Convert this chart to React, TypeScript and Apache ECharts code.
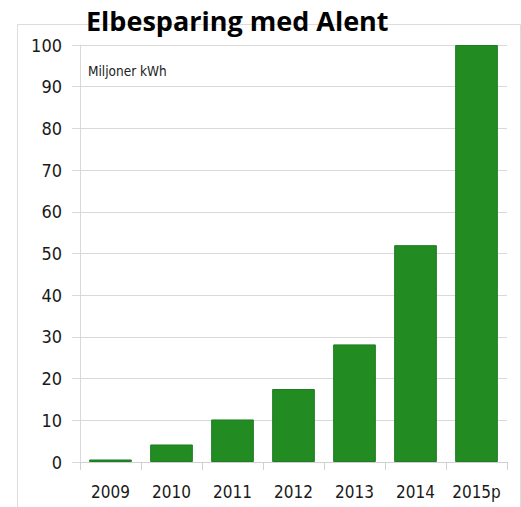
import React, { useEffect, useRef } from "react";
import * as echarts from "echarts";

const categories = ["2009", "2010", "2011", "2012", "2013", "2014", "2015p"];
const values = [0.6, 4.2, 10.2, 17.5, 28.2, 52, 100];
const titleText = "Elbesparing med Alent";
const unitText = "Miljoner kWh";

const NARROW = "'DejaVu Sans Condensed', 'Open Sans', sans-serif";

export default function App() {
  const ref = useRef<HTMLDivElement>(null);
  useEffect(() => {
    if (!ref.current) return;
    const chart = echarts.init(ref.current, undefined, { renderer: "svg" });
    chart.setOption({
      animation: false,
      backgroundColor: "#ffffff",
      title: {
        text: titleText,
        left: 81,
        top: 2,
        textStyle: {
          fontFamily: "'Open Sans', sans-serif",
          fontWeight: "bold",
          fontSize: 27,
          color: "#000000",
        },
      },
      graphic: [
        {
          type: "rect",
          z: -10,
          shape: { x: 17.5, y: 24.5, width: 503, height: 500 },
          style: { fill: "none", stroke: "#dcdcdc", lineWidth: 1 },
        },
        {
          type: "text",
          x: 88,
          y: 64,
          style: {
            text: unitText,
            fontFamily: NARROW,
            fontSize: 13.5,
            fill: "#222222",
          },
        },
      ],
      grid: { left: 80, right: 14, top: 45, bottom: 45 },
      xAxis: {
        type: "category",
        data: categories,
        axisLine: { lineStyle: { color: "#d0d0d0" } },
        axisTick: { show: true, length: 8, lineStyle: { color: "#d0d0d0" } },
        axisLabel: {
          interval: 0,
          margin: 21,
          fontFamily: NARROW,
          fontSize: 17,
          color: "#1a1a1a",
        },
      },
      yAxis: {
        type: "value",
        min: 0,
        max: 100,
        interval: 10,
        axisLine: { show: true, lineStyle: { color: "#d9d9d9" } },
        axisTick: { show: true, length: 8, lineStyle: { color: "#d9d9d9" } },
        splitLine: { lineStyle: { color: "#d9d9d9" } },
        axisLabel: {
          margin: 18,
          fontFamily: NARROW,
          fontSize: 18,
          color: "#1a1a1a",
        },
      },
      series: [
        {
          type: "bar",
          data: values,
          barWidth: "70%",
          itemStyle: { color: "#228b22", borderColor: "#1e7d22", borderWidth: 1 },
        },
      ],
    });
    return () => chart.dispose();
  }, []);
  return (
    <div
      ref={ref}
      style={{ position: "fixed", left: 0, top: 0, width: 521, height: 507 }}
    />
  );
}
